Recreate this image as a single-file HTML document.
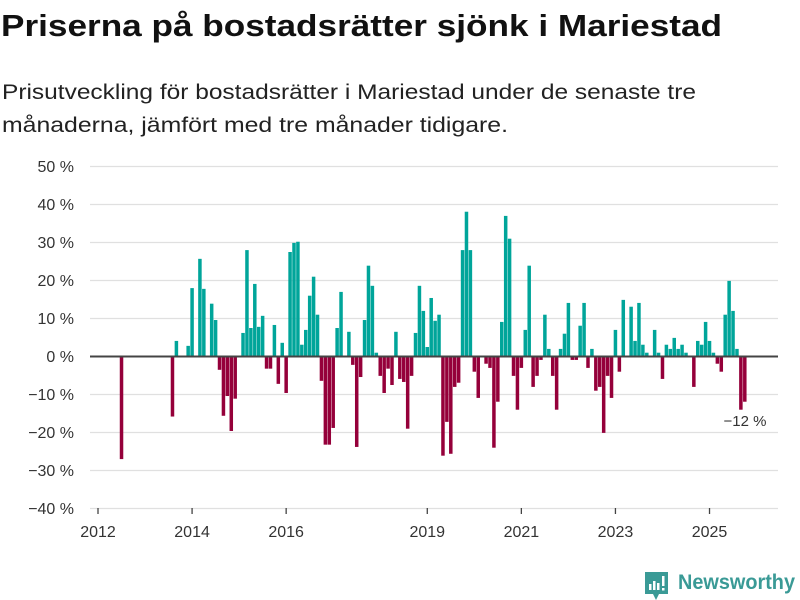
<!DOCTYPE html>
<html><head><meta charset="utf-8"><style>
html,body{margin:0;padding:0;background:#fff;}
svg{display:block;font-family:"Liberation Sans",sans-serif;}
</style></head><body>
<svg id="chart" width="800" height="600" viewBox="0 0 800 600" xmlns="http://www.w3.org/2000/svg">
<text x="1" y="36" font-size="31" font-weight="bold" fill="#111" textLength="721" lengthAdjust="spacingAndGlyphs">Priserna på bostadsrätter sjönk i Mariestad</text>
<text x="2" y="99" font-size="21" fill="#222" textLength="694" lengthAdjust="spacingAndGlyphs">Prisutveckling för bostadsrätter i Mariestad under de senaste tre</text>
<text x="2" y="132" font-size="21" fill="#222" textLength="506" lengthAdjust="spacingAndGlyphs">månaderna, jämfört med tre månader tidigare.</text>
<g id="grid"></g>
<g id="ylabels"></g>
<g id="xaxis"></g>
<g id="bars"></g>
<line id="zero" x1="90" x2="778" stroke="#444" stroke-width="2"/>
<text x="745" y="426" font-size="15" fill="#333" text-anchor="middle">−12 %</text>
<g>
<path d="M645 572 h23 v22 h-9 l-3 6 l-3 -6 h-8 z" fill="#3a9a96"/>
<rect x="649" y="584" width="2.5" height="6" fill="#fff"/>
<rect x="653" y="581" width="2.5" height="9" fill="#fff"/>
<rect x="657" y="583" width="2.5" height="7" fill="#fff"/>
<rect x="662" y="576" width="2.5" height="10" fill="#fff"/>
<rect x="662" y="588" width="2.5" height="2.5" fill="#fff"/>
<text x="678" y="589" font-size="21" font-weight="bold" fill="#3a9a96" textLength="117" lengthAdjust="spacingAndGlyphs">Newsworthy</text>
</g>
</svg>
<script>
const startMonth = 6;
const values = [-27, null,null,null,null,null,null,null,null,null,null,null,null,
-15.8, 4.1, null, null, 2.8, 18, null, 25.7, 17.8, null, 13.9, 9.6, -3.5, -15.6, -10.4, -19.6, -11.1, null,
6.2, 28, 7.5, 19.1, 7.8, 10.7, -3.2, -3.2, 8.3, -7.2, 3.6, -9.6, 27.5, 29.9, 30.2, 3.1, 7, 16, 21, 11,
-6.4, -23.2, -23.2, -18.8, 7.5, 17, null, 6.5, -2.2, -23.8, -5.4, 9.6, 23.9, 18.6, 1, -5.1, -9.6, -3.2,
-7.5, 6.5, -5.9, -6.7, -19, -5.1, 6.2, 18.6, 12, 2.5, 15.4, 9.4, 11, -26.1, -17.2, -25.6, -8, -6.9,
28, 38.1, 28, -4, -10.9, null, -1.9, -3, -24, -11.9, 9.1, 37, 31, -5.1, -14, -3, 7, 23.9, -8, -5.1,
-0.9, 11, 2, -5.1, -14, 2, 6, 14.1, -0.9, -0.9, 8.1, 14.1, -3, 2, -9, -8, -20.1, -5.1, -10.9, 7, -4,
14.9, null, 13.1, 4.1, 14.1, 3.1, 1, null, 7, 1, -5.9, 3.1, 2, 4.9, 2, 3.1, 1, null, -8, 4.1, 3.1,
9.1, 4.1, 1, -1.9, -4, 11, 19.9, 12, 2, -14, -11.9];
const yTicks = [50, 40, 30, 20, 10, 0, -10, -20, -30, -40];
const yTickLabels = ["50 %","40 %","30 %","20 %","10 %","0 %","−10 %","−20 %","−30 %","−40 %"];
const xTickYears = [2012, 2014, 2016, 2019, 2021, 2023, 2025];

const NS = "http://www.w3.org/2000/svg";
function yScale(v){ return 356.5 - v * 3.8; }
function xScale(m){ return 98 + m * 3.92; }
function mk(tag, attrs, parent){ const e=document.createElementNS(NS,tag); for(const k in attrs) e.setAttribute(k,attrs[k]); parent.appendChild(e); return e; }

const grid=document.getElementById('grid'), yl=document.getElementById('ylabels');
yTicks.forEach((t,i)=>{
  const y=yScale(t);
  const l=mk('line',{x1:90,x2:778,y1:y,y2:y,stroke:'#e0e0e0','stroke-width':1.3},grid);
  
  
  const tx=mk('text',{x:74,y:y+5.5,'font-size':16,fill:'#333','text-anchor':'end'},yl);
  tx.textContent=yTickLabels[i];
  
  
});
const z=document.getElementById('zero');
z.setAttribute('y1',yScale(0)); z.setAttribute('y2',yScale(0));

const xa=document.getElementById('xaxis');
xTickYears.forEach(yr=>{
  const x=xScale((yr-2012)*12);
  const t=mk('line',{x1:x,x2:x,y1:508,y2:514,stroke:'#444','stroke-width':1.3},xa);
  
  
  const tx=mk('text',{x:x,y:537,'font-size':16,fill:'#333','text-anchor':'middle'},xa);
  tx.textContent=String(yr);
  
  
});

const bars=document.getElementById('bars');
values.forEach((v,i)=>{
  if(v===null) return;
  const m=startMonth+i;
  const cx=xScale(m);
  const y0=yScale(0), y1=yScale(v);
  const r=mk('rect',{x:cx-1.75,width:3.5,y:Math.min(y0,y1),height:Math.abs(y1-y0),fill:v>=0?'#00a59a':'#95003a'},bars);
  
  
});
</script>
</body></html>
